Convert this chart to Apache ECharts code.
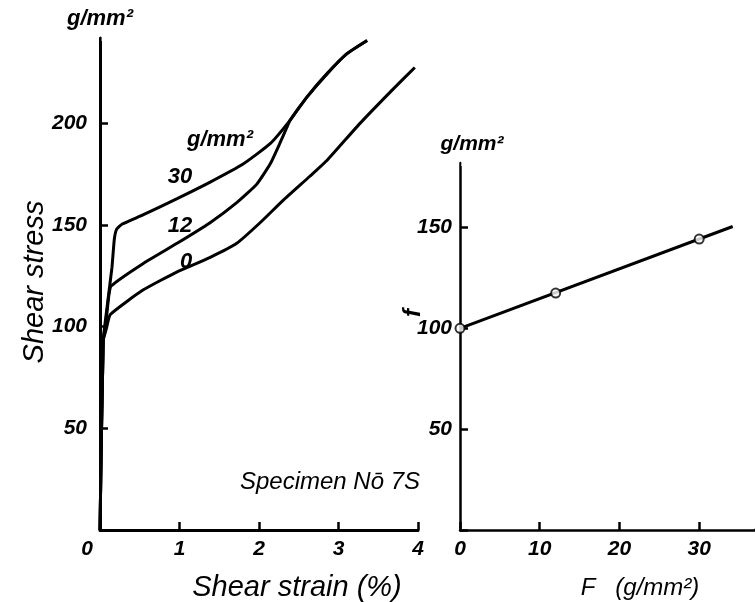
<!DOCTYPE html>
<html>
<head>
<meta charset="utf-8">
<script src="https://cdn.jsdelivr.net/npm/echarts@6/dist/echarts.min.js"></script>
<style>
  html, body { margin: 0; padding: 0; background: #fff; }
  #main { width: 755px; height: 602px; }
</style>
</head>
<body>
<div id="main"></div>
<script>
// left panel: shear stress (g/mm2) vs shear strain (%), one curve per normal load F
var strainTicks = [0, 1, 2, 3, 4];
var stressTicks = [50, 100, 150, 200];
var curve0 = [[0, 0], [0.04, 93], [0.08, 99], [0.13, 106], [0.54, 118], [0.97, 127], [1.38, 134],
  [1.72, 141], [2.01, 151], [2.30, 162], [2.64, 174], [2.86, 182], [3.27, 200], [3.69, 217], [3.96, 227.5]];
var curve12 = [[0, 0], [0.04, 93], [0.08, 104], [0.11, 115], [0.14, 120], [0.54, 131], [0.97, 141],
  [1.38, 151], [1.72, 161], [1.97, 170], [2.14, 180], [2.26, 190], [2.35, 198], [2.39, 201.5],
  [2.60, 212.8], [2.86, 224.6], [3.11, 234.4], [3.36, 240.8]];
var curve30 = [[0, 0], [0.04, 93], [0.09, 110], [0.15, 129], [0.18, 143], [0.21, 148], [0.28, 150.5],
  [0.54, 155], [0.97, 163], [1.38, 171], [1.80, 180], [2.14, 190], [2.39, 201.5], [2.60, 212.8],
  [2.86, 224.6], [3.11, 234.4], [3.36, 240.8]];

// right panel: f (g/mm2) vs F (g/mm2)
var loadF = [0, 12, 30];
var interceptF = [100, 117.5, 144.3];
var fitLine = [[0, 100], [34.2, 150.5]];
var fTicksX = [0, 10, 20, 30];
var fTicksY = [50, 100, 150];

var FONT = 'Liberation Sans';
var chart = echarts.init(document.getElementById('main'), null, { renderer: 'canvas' });

function lbl(size, bold) {
  return { color: '#000', fontFamily: FONT, fontStyle: 'italic', fontWeight: bold ? 'bold' : 'normal', fontSize: size };
}

function tick() {
  return { show: true, inside: true, length: 8, lineStyle: { color: '#000', width: 2.5 } };
}

var xLeft = {
  type: 'value', gridIndex: 0, min: 0, max: 4, interval: 1,
  axisLine: { lineStyle: { color: '#000', width: 3 } },
  splitLine: { show: false },
  axisTick: tick(),
  axisLabel: Object.assign(lbl(21, true), {
    margin: 9, customValues: strainTicks,
    formatter: function (v) { return v === 0 ? '{z|0}' : String(v); },
    rich: { z: Object.assign(lbl(21, true), { padding: [0, 26, 0, 0] }) }
  })
};
var yLeft = {
  type: 'value', gridIndex: 0, min: 0, max: 242, interval: 50,
  name: 'g/mm²', nameGap: 8, nameTextStyle: lbl(22, true),
  axisLine: { lineStyle: { color: '#000', width: 3 } },
  splitLine: { show: false },
  axisTick: tick(),
  axisLabel: Object.assign(lbl(21, true), { margin: 13, customValues: stressTicks })
};
var xRight = {
  type: 'value', gridIndex: 1, min: 0, max: 37, interval: 10,
  axisLine: { lineStyle: { color: '#000', width: 2.5 } },
  splitLine: { show: false },
  axisTick: tick(),
  axisLabel: Object.assign(lbl(21, true), { margin: 9, customValues: fTicksX })
};
var yRight = {
  type: 'value', gridIndex: 1, min: 0, max: 182, interval: 50,
  name: 'g/mm²', nameGap: 8, nameTextStyle: Object.assign(lbl(21, true), { padding: [0, 0, 0, 24] }),
  axisLine: { lineStyle: { color: '#000', width: 2.5 } },
  splitLine: { show: false },
  axisTick: tick(),
  axisLabel: Object.assign(lbl(21, true), { margin: 8, customValues: fTicksY })
};

function curve(data) {
  return {
    type: 'line', xAxisIndex: 0, yAxisIndex: 0, data: data,
    showSymbol: false, smooth: 0.15, lineStyle: { color: '#000', width: 3 }
  };
}

function txt(text, x, y, size, rot, bold) {
  return {
    type: 'text', x: x, y: y, rotation: rot || 0, z: 100,
    style: {
      text: text, fill: '#000', fontFamily: FONT, fontStyle: 'italic',
      fontWeight: bold ? 'bold' : 'normal', fontSize: size,
      align: 'center', verticalAlign: 'middle'
    }
  };
}

// the scale puts a tick at the axis ends too, the original has none there
function blank(x, y, w, h) {
  return { type: 'rect', z: 100, shape: { x: x, y: y, width: w, height: h }, style: { fill: '#fff' } };
}

chart.setOption({
  backgroundColor: '#fff',
  animation: false,
  grid: [
    { left: 100, right: 337, top: 38, bottom: 72 },
    { left: 460, right: 0, top: 163, bottom: 72 }
  ],
  xAxis: [xLeft, xRight],
  yAxis: [yLeft, yRight],
  series: [
    curve(curve0),
    curve(curve12),
    curve(curve30),
    {
      type: 'line', xAxisIndex: 1, yAxisIndex: 1, data: fitLine,
      showSymbol: false, lineStyle: { color: '#000', width: 3 }
    },
    {
      type: 'scatter', xAxisIndex: 1, yAxisIndex: 1, z: 5,
      data: loadF.map(function (f, i) { return [f, interceptF[i]]; }),
      symbol: 'circle', symbolSize: 9,
      itemStyle: { color: '#fff', borderColor: '#000', borderWidth: 2 }
    }
  ],
  graphic: [
    blank(101.6, 34, 10, 7),
    blank(461.3, 159, 10, 7),
    blank(751, 517, 4, 11.7),
    txt('Shear stress', 35, 282, 29, Math.PI / 2),
    txt('Shear strain (%)', 297, 588, 29),
    txt('Specimen Nō 7S', 330, 482, 24),
    txt('g/mm²', 220, 140, 22, 0, true),
    txt('30', 180, 177, 22, 0, true),
    txt('12', 180, 226, 22, 0, true),
    txt('0', 186, 262, 22, 0, true),
    txt('f', 413, 313, 24, Math.PI / 2, true),
    txt('F   (g/mm²)', 640, 588, 24)
  ]
});
</script>
</body>
</html>
